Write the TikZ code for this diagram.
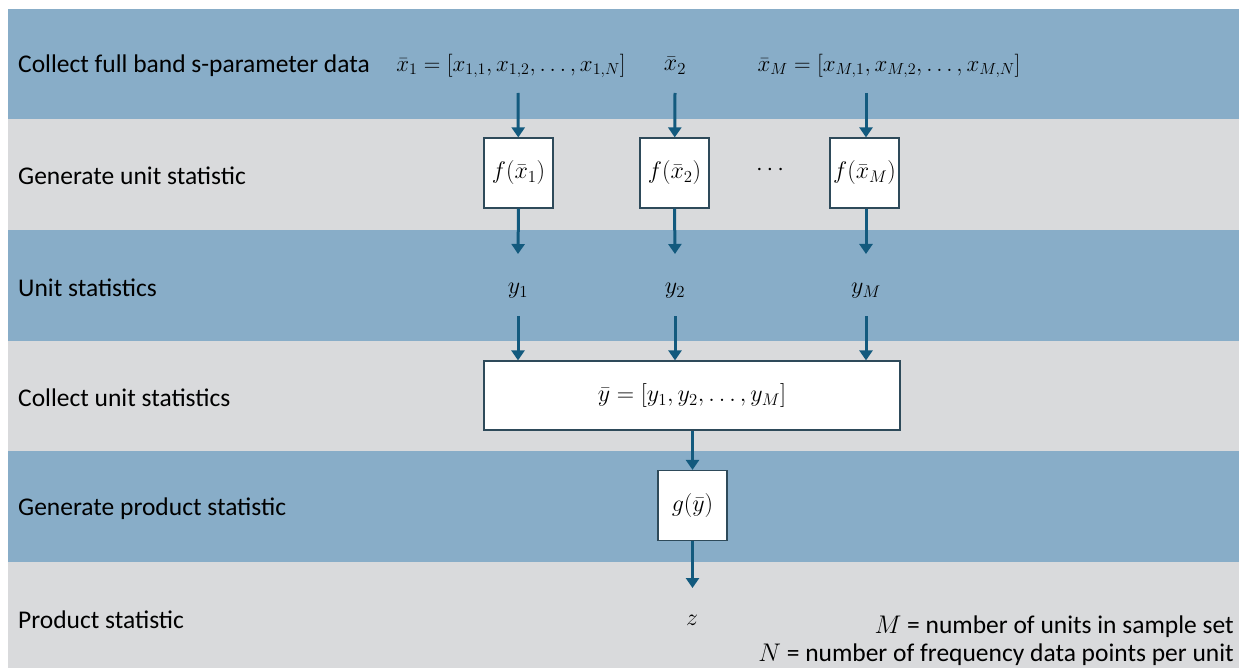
\RequirePackage{fix-cm}
\documentclass[tikz,border=0pt]{standalone}
\usepackage{amsmath}
\usepackage{fontspec}
\setmainfont{Carlito}
\usetikzlibrary{arrows.meta}
\definecolor{bandblue}{HTML}{88ADC8}
\definecolor{bandgrey}{HTML}{D9DADC}
\definecolor{arrowblue}{HTML}{135A7E}
\definecolor{boxline}{HTML}{2E4A5A}
\begin{document}
\begin{tikzpicture}[x=1pt,y=-1pt,
  lbl/.style={anchor=west, font=\fontsize{25.5}{30}\selectfont, inner sep=0pt},
  mth/.style={font=\fontsize{24}{28}\selectfont, inner sep=0pt},
  mthsm/.style={font=\fontsize{23}{27}\selectfont, inner sep=0pt},
  leg/.style={anchor=base east, font=\fontsize{25.5}{30}\selectfont, inner sep=0pt},
  fbox/.style={draw=boxline, line width=1.2pt, fill=white, minimum width=69pt, minimum height=70pt, inner sep=0pt, font=\fontsize{24}{28}\selectfont},
  arr/.style={draw=arrowblue, line width=3pt, -{Triangle[width=13pt,length=10pt]}}
]
\useasboundingbox (0,0) rectangle (1239,668);
% bands
\fill[bandblue] (8,9) rectangle (1239,119);
\fill[bandgrey] (8,119) rectangle (1239,230);
\fill[bandblue] (8,230) rectangle (1239,341);
\fill[bandgrey] (8,341) rectangle (1239,451);
\fill[bandblue] (8,451) rectangle (1239,562);
\fill[bandgrey] (8,562) rectangle (1239,668);
% row labels
\node[lbl] (l1) at (18,66) {Collect full band s-parameter data};
\node[lbl] (l2) at (18,176) {Generate unit statistic};
\node[lbl] (l3) at (18,288) {Unit statistics};
\node[lbl] (l4) at (18,398) {Collect unit statistics};
\node[lbl] (l5) at (18,509) {Generate product statistic};
\node[lbl] (l6) at (18,620) {Product statistic};
% inputs
\node[mthsm] (x1) at (511,66) {$\bar{x}_1=\left[x_{1,1},x_{1,2},\ldots,x_{1,N}\right]$};
\node[mth] (x2) at (675,66) {$\bar{x}_2$};
\node[mthsm] (xM) at (889,66) {$\bar{x}_M=\left[x_{M,1},x_{M,2},\ldots,x_{M,N}\right]$};
\coordinate (s1) at (518,93);
\coordinate (s2) at (675,93);
\coordinate (s3) at (866,93);
% f boxes
\node[fbox] (f1) at (518.5,173) {$f(\bar{x}_1)$};
\node[fbox] (f2) at (674.5,173) {$f(\bar{x}_2)$};
\node[fbox] (fM) at (864.5,173) {$f(\bar{x}_M)$};
\node[mth] (dots) at (772,170) {$\cdots$};
\draw[arr] (s1) -- (f1);
\draw[arr] (s2) -- (f2);
\draw[arr] (s3) -- (s3 |- fM.north);
% unit statistics
\coordinate (e1) at (518,254);
\coordinate (e2) at (675,254);
\coordinate (e3) at (866,254);
\draw[arr] (f1.south) -- (e1);
\draw[arr] (f2.south) -- (e2);
\draw[arr] (e3 |- fM.south) -- (e3);
\node[mth] (y1) at (518,291) {$y_1$};
\node[mth] (y2) at (675,291) {$y_2$};
\node[mth] (yM) at (866,291) {$y_M$};
% collect box
\node[fbox, minimum width=416pt, minimum height=69pt] (yb) at (692,395.5) {$\bar{y}=[y_1,y_2,\ldots,y_M]$};
\coordinate (t1) at (518,316);
\coordinate (t2) at (675,316);
\coordinate (t3) at (866,316);
\draw[arr] (t1) -- (t1 |- yb.north);
\draw[arr] (t2) -- (t2 |- yb.north);
\draw[arr] (t3) -- (t3 |- yb.north);
% product statistic
\node[fbox] (g) at (692.5,505.5) {$g(\bar{y})$};
\draw[arr] (yb.south -| g.north) -- (g.north);
\coordinate (zt) at (692.5,588);
\draw[arr] (g.south) -- (zt);
\node[mth] (z) at (692,620) {$z$};
% legend
\node[leg] (legM) at (1234,633) {$M$ = number of units in sample set};
\node[leg] (legN) at (1234,661) {$N$ = number of frequency data points per unit};
\end{tikzpicture}
\end{document}
